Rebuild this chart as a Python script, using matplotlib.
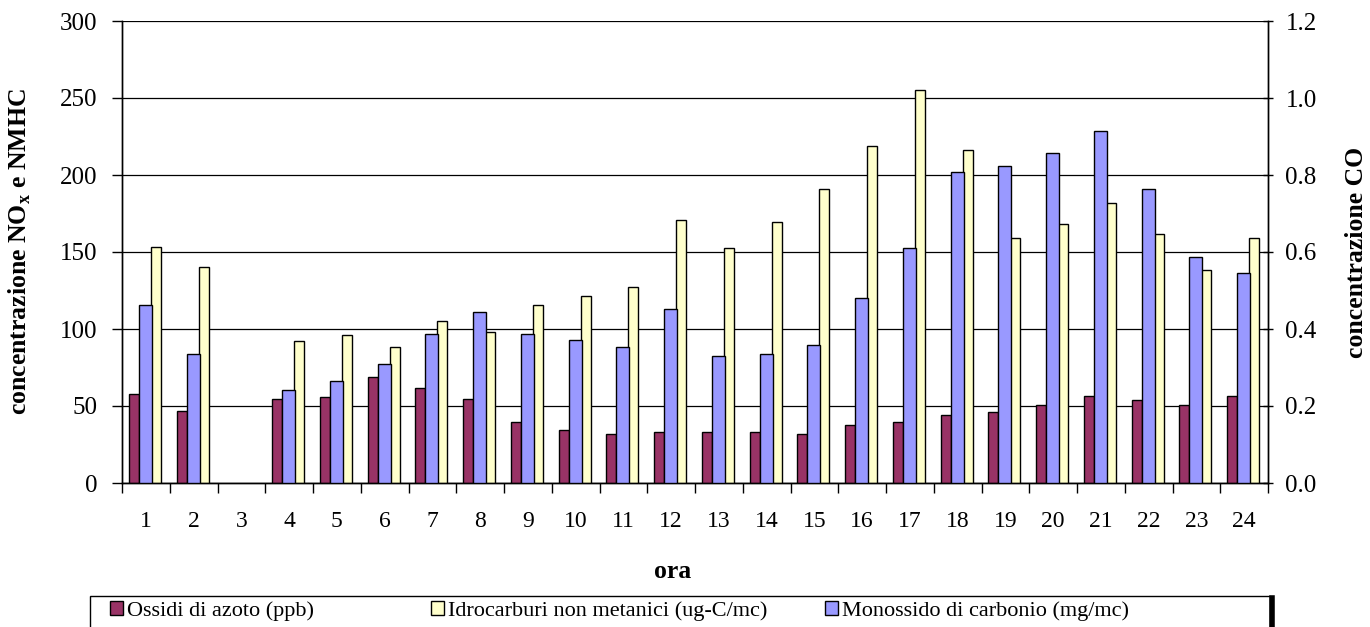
import numpy as np
import matplotlib
matplotlib.use("Agg")
import matplotlib.pyplot as plt
from matplotlib.patches import Patch, Rectangle
from matplotlib.lines import Line2D

plt.rcParams['font.family'] = ['Liberation Serif', 'DejaVu Serif']
plt.rcParams['mathtext.fontset'] = 'custom'
plt.rcParams['mathtext.rm'] = 'Liberation Serif'
plt.rcParams['mathtext.bf'] = 'Liberation Serif:bold'

# ---- data ----
hours = [str(h) for h in range(1, 25)]
nox  = [58, 47, np.nan, 54.5, 55.6, 68.6, 62, 54.5, 39.4, 34.6, 32, 33,
        33, 33, 32, 37.7, 39.4, 44.4, 46.1, 50.9, 56.5, 53.7, 50.9, 56.5]
nmhc = [153, 140, np.nan, 92, 96, 88.5, 105.4, 98, 115.6, 121.4, 127, 171,
        152.4, 169.3, 190.9, 219, 255, 216, 159, 168.4, 181.6, 161.7, 138.3, 159]
co   = [0.462, 0.335, np.nan, 0.242, 0.264, 0.308, 0.388, 0.444, 0.388, 0.372,
        0.353, 0.451, 0.331, 0.335, 0.358, 0.481, 0.610, 0.809, 0.824, 0.857,
        0.913, 0.764, 0.587, 0.546]

labels = ["Ossidi di azoto (ppb)", "Idrocarburi non metanici (ug-C/mc)",
          "Monossido di carbonio (mg/mc)"]
c_nox, c_nmhc, c_co = "#993366", "#FFFFCC", "#9999FF"

x = np.arange(len(hours))
fs_xt, fs_yt, fs_lab, fs_leg = 17, 18, 18.5, 16

fig = plt.figure(figsize=(13.7, 6.27), dpi=100)
ax = fig.add_axes([122/1370, 1-483/627, 1146/1370, 462/627])
ax2 = ax.twinx()

ax.bar(x - 0.249, nox, width=0.21, color=c_nox, edgecolor="black", linewidth=1, zorder=3)
ax.bar(x + 0.21, nmhc, width=0.21, color=c_nmhc, edgecolor="black", linewidth=1, zorder=3)
ax2.bar(x - 0.008, co, width=0.272, color=c_co, edgecolor="black", linewidth=1, zorder=3)

ax.set_xlim(-0.5, len(hours) - 0.5)
ax.set_ylim(0, 300)
ax2.set_ylim(0, 1.2)
ax.set_yticks(np.arange(0, 301, 50))
ax2.set_yticks(np.arange(0, 1.21, 0.2))
ax2.set_yticklabels([f"{v:.1f}" for v in np.arange(0, 1.21, 0.2)])

ax.yaxis.grid(True, color="black", linewidth=0.9, zorder=0)
ax.set_axisbelow(True)

# category ticks between groups, labels at centres
ax.set_xticks(np.arange(-0.5, len(hours), 1.0))
ax.set_xticklabels([])
ax.set_xticks(x, minor=True)
ax.set_xticklabels(hours, minor=True)
ax.tick_params(axis="x", which="major", length=7, width=1, direction="out")
ax.tick_params(axis="x", which="minor", length=0, pad=20, labelsize=fs_xt)
ax.tick_params(axis="y", length=7, width=1, direction="out", pad=11, labelsize=fs_yt)
ax2.tick_params(axis="y", length=7, width=1, direction="inout", pad=9, labelsize=fs_yt)

for a in (ax, ax2):
    a.spines["top"].set_visible(False)
    for s in ("left", "right", "bottom"):
        a.spines[s].set_linewidth(1)

ax.set_ylabel(r"concentrazione NO$_\mathbf{x}$ e NMHC", fontsize=fs_lab, fontweight="bold")
ax.yaxis.set_label_coords(-(122-33)/1146, 0.5)
ax2.set_ylabel("concentrazione CO", fontsize=fs_lab, fontweight="bold")
ax2.yaxis.set_label_coords((1345-122)/1146, 0.5)
ax.set_xlabel("ora", fontsize=fs_lab, fontweight="bold")
ax.xaxis.set_label_coords((673-122)/1146, -(560-483)/462)

# legend box (cut off by the bottom edge, as in the original)
fig.add_artist(Rectangle((90/1370, -0.05), 1180/1370, 0.05 + 1-596/627,
                         transform=fig.transFigure, facecolor="white",
                         edgecolor="black", linewidth=1))
fig.add_artist(Line2D([1272/1370, 1272/1370], [0, 1-598/627], color="black",
                      linewidth=4, transform=fig.transFigure))
leg_x = [110, 431, 825]
for c, lab, lx in zip((c_nox, c_nmhc, c_co), labels, leg_x):
    fig.legend([Patch(facecolor=c, edgecolor="black", linewidth=1)], [lab],
               loc="center left", bbox_to_anchor=(lx/1370, 1-611/627),
               fontsize=fs_leg, frameon=False, handlelength=0.6, handleheight=0.6,
               handletextpad=0.15, borderaxespad=0, borderpad=0)

fig.savefig("out.png", dpi=100)
